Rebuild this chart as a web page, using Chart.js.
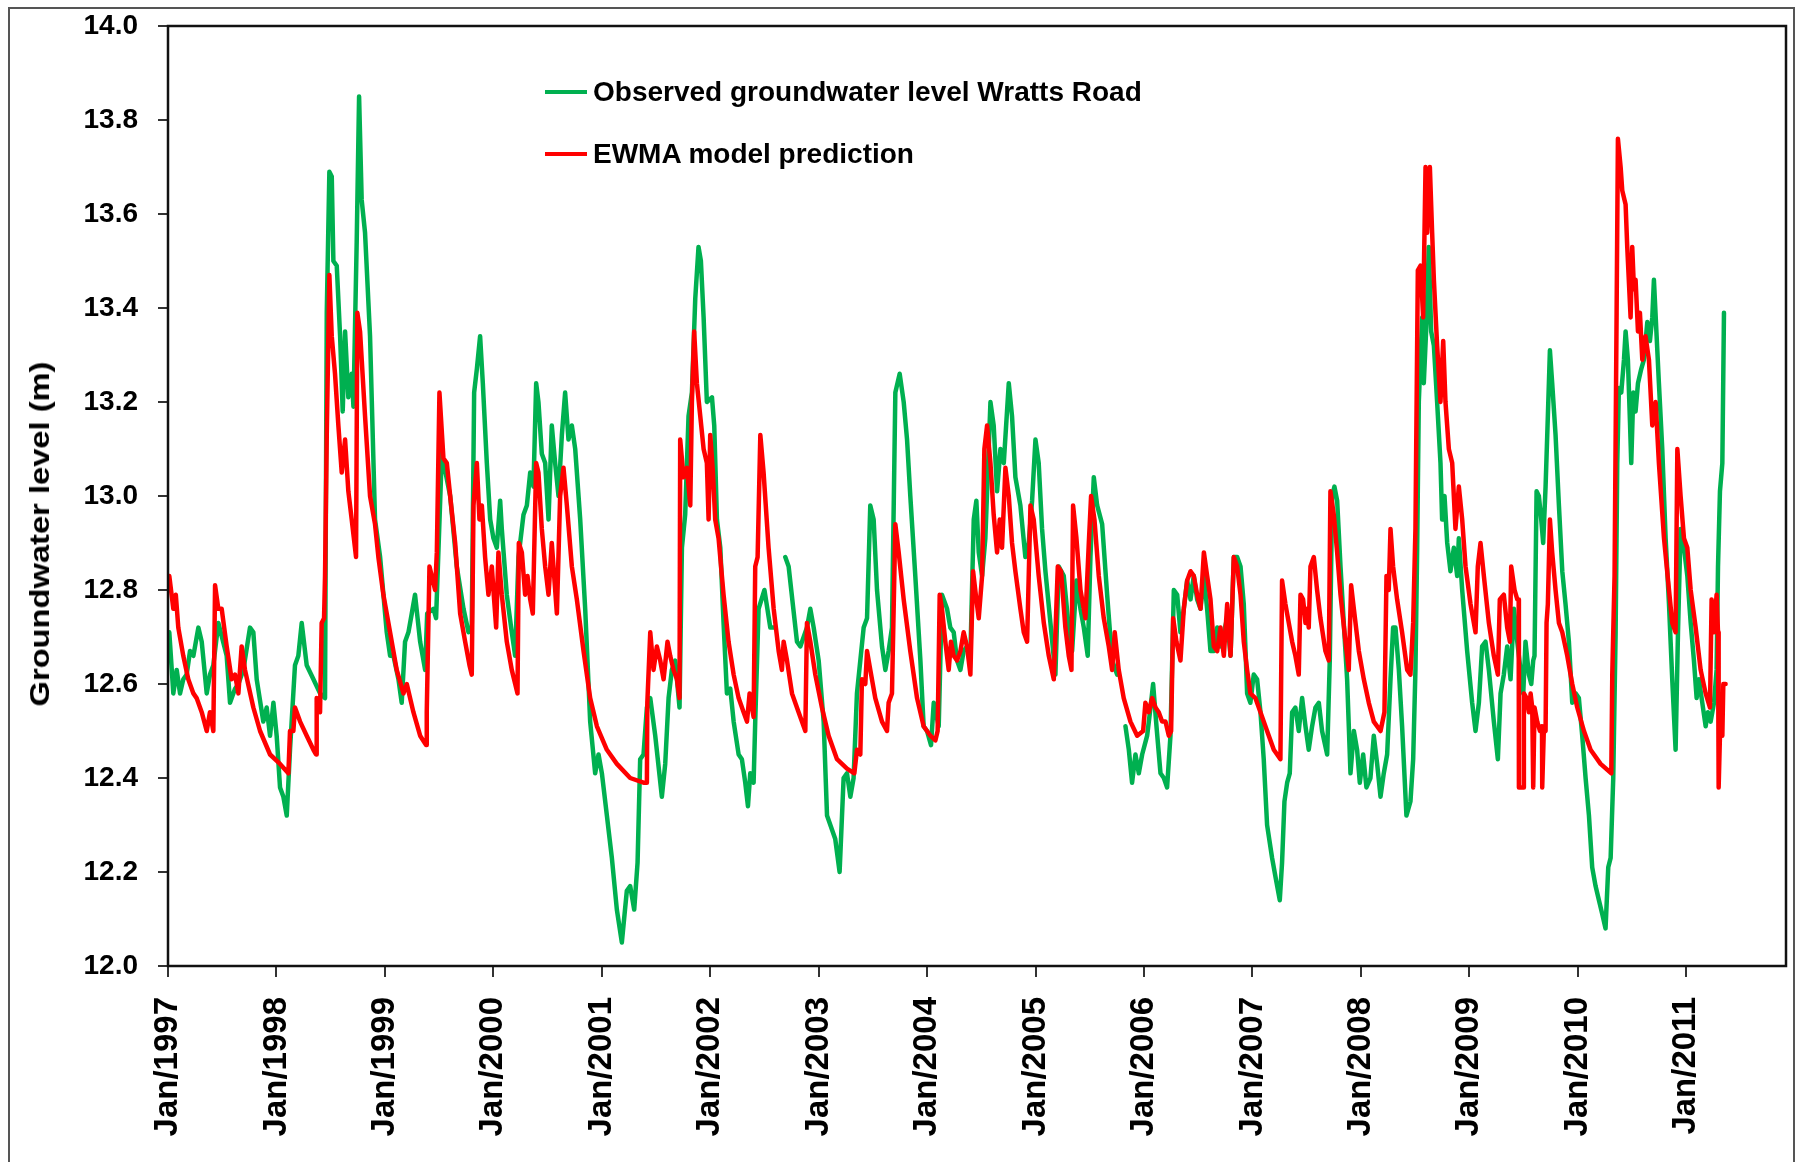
<!DOCTYPE html>
<html>
<head>
<meta charset="utf-8">
<script src="https://cdn.jsdelivr.net/npm/chart.js@4.4.1/dist/chart.umd.min.js"></script>
<style>
  html, body { margin: 0; padding: 0; background: #fff; overflow: hidden; }
  #wrap { position: relative; width: 1801px; height: 1162px; }
  #frame { position: absolute; left: 8px; top: 7px; width: 1787px; height: 1190px; border: 2px solid #555; box-sizing: border-box; }
  canvas { position: absolute; left: 0; top: 0; }
  .ytitle { position: absolute; left: 39.5px; top: 534px; white-space: nowrap;
            font: bold 28px "Liberation Sans", Arial, sans-serif; line-height: 1; color: #000;
            transform: translate(-50%, -50%) rotate(-90deg) scaleX(1.167); }
  .lrow { position: absolute; left: 545px; height: 28px; display: flex; align-items: center;
          font: bold 28px "Liberation Sans", Arial, sans-serif; line-height: 28px; color: #000; white-space: nowrap; }
  .sw { width: 42px; height: 4.5px; margin-right: 6px; }
</style>
</head>
<body>
<div id="wrap">
  <div id="frame"></div>
  <canvas id="c" width="1801" height="1162"></canvas>
  <div class="ytitle" id="ytitle"></div>
  <div id="legend"></div>
</div>
<script>
// ---------------- data ----------------
const seriesNames = ["Observed groundwater level Wratts Road", "EWMA model prediction"];
const seriesColors = ["#00B050", "#FF0000"];
const yAxisTitle = "Groundwater level (m)";
const tickYears = [1997,1998,1999,2000,2001,2002,2003,2004,2005,2006,2007,2008,2009,2010,2011];
const tickLabels = ["Jan/1997","Jan/1998","Jan/1999","Jan/2000","Jan/2001","Jan/2002","Jan/2003","Jan/2004","Jan/2005","Jan/2006","Jan/2007","Jan/2008","Jan/2009","Jan/2010","Jan/2011"];
const yTicks = [12.0,12.2,12.4,12.6,12.8,13.0,13.2,13.4,13.6,13.8,14.0];

// [decimal year, level m]  (null = gap in record)
const observed = [
[1997.012,12.71],[1997.049,12.58],[1997.080,12.63],[1997.111,12.58],[1997.141,12.61],[1997.172,12.62],[1997.203,12.67],[1997.234,12.66],[1997.280,12.72],[1997.311,12.69],[1997.357,12.58],[1997.387,12.62],[1997.418,12.64],[1997.464,12.73],[1997.541,12.66],[1997.572,12.56],[1997.618,12.59],[1997.649,12.60],[1997.695,12.63],[1997.756,12.72],[1997.787,12.71],[1997.818,12.61],[1997.879,12.52],[1997.910,12.55],[1997.941,12.49],[1997.972,12.56],[1998.002,12.49],[1998.033,12.38],[1998.064,12.36],[1998.095,12.32],[1998.125,12.46],[1998.171,12.64],[1998.202,12.66],[1998.233,12.73],[1998.279,12.64],[1998.341,12.61],[1998.402,12.58],[1998.448,12.57],[1998.464,13.39],[1998.488,13.69],[1998.510,13.68],[1998.525,13.50],[1998.556,13.49],[1998.587,13.34],[1998.611,13.18],[1998.633,13.35],[1998.663,13.21],[1998.694,13.26],[1998.710,13.19],[1998.740,13.54],[1998.762,13.85],[1998.786,13.63],[1998.817,13.56],[1998.863,13.34],[1998.909,12.95],[1998.956,12.87],[1999.017,12.71],[1999.048,12.66],[1999.079,12.66],[1999.125,12.61],[1999.155,12.56],[1999.186,12.69],[1999.217,12.71],[1999.248,12.75],[1999.278,12.79],[1999.325,12.69],[1999.371,12.63],[1999.390,12.75],[1999.448,12.76],[1999.472,12.74],[1999.525,13.09],[1999.602,13.00],[1999.663,12.85],[1999.725,12.76],[1999.771,12.71],[1999.801,12.72],[1999.823,13.22],[1999.848,13.27],[1999.878,13.34],[1999.903,13.24],[1999.940,13.07],[1999.971,12.95],
[2000.001,12.91],[2000.032,12.89],[2000.063,12.99],[2000.078,12.93],[2000.124,12.79],[2000.170,12.71],[2000.201,12.66],[2000.232,12.87],[2000.278,12.96],[2000.309,12.98],[2000.340,13.05],[2000.370,13.02],[2000.395,13.24],[2000.416,13.20],[2000.447,13.09],[2000.478,13.07],[2000.509,12.95],[2000.539,13.15],[2000.570,13.07],[2000.601,13.00],[2000.632,13.13],[2000.662,13.22],[2000.693,13.12],[2000.724,13.15],[2000.755,13.10],[2000.801,12.95],[2000.847,12.76],[2000.893,12.52],[2000.939,12.41],[2000.970,12.45],[2001.001,12.41],[2001.047,12.32],[2001.093,12.23],[2001.139,12.12],[2001.185,12.05],[2001.231,12.16],[2001.262,12.17],[2001.299,12.12],[2001.330,12.22],[2001.354,12.44],[2001.385,12.45],[2001.416,12.55],[2001.447,12.57],[2001.493,12.49],[2001.554,12.36],[2001.585,12.43],[2001.616,12.57],[2001.646,12.63],[2001.677,12.65],[2001.717,12.55],[2001.739,12.89],[2001.769,12.96],[2001.800,13.17],[2001.831,13.22],[2001.862,13.42],[2001.892,13.53],[2001.914,13.50],[2001.939,13.38],[2001.969,13.20],
[2002.016,13.21],[2002.037,13.15],[2002.062,12.95],[2002.093,12.89],[2002.123,12.73],[2002.154,12.58],[2002.185,12.59],[2002.216,12.52],[2002.262,12.45],[2002.292,12.44],[2002.323,12.39],[2002.348,12.34],[2002.369,12.41],[2002.400,12.39],[2002.415,12.52],[2002.446,12.76],[2002.500,12.80],[2002.554,12.72],[2002.600,12.72],[2002.650,null],[2002.692,12.87],[2002.723,12.85],[2002.800,12.69],[2002.831,12.68],[2002.892,12.72],[2002.923,12.76],[2002.954,12.72],[2003.000,12.65],[2003.046,12.52],[2003.077,12.32],[2003.123,12.29],[2003.153,12.27],[2003.193,12.20],[2003.230,12.40],[2003.261,12.41],[2003.292,12.36],[2003.322,12.40],[2003.353,12.58],[2003.384,12.65],[2003.415,12.72],[2003.446,12.74],[2003.476,12.98],[2003.507,12.95],[2003.538,12.80],[2003.584,12.68],[2003.615,12.63],[2003.645,12.67],[2003.676,12.72],[2003.707,13.22],[2003.747,13.26],[2003.784,13.20],[2003.815,13.12],[2003.845,13.00],[2003.891,12.83],[2003.938,12.65],[2003.968,12.51],[2003.999,12.50],
[2004.036,12.47],[2004.061,12.56],[2004.107,12.51],[2004.137,12.79],[2004.184,12.76],[2004.214,12.72],[2004.245,12.71],[2004.276,12.65],[2004.307,12.63],[2004.337,12.67],[2004.368,12.68],[2004.399,12.66],[2004.430,12.95],[2004.454,12.99],[2004.476,12.88],[2004.507,12.83],[2004.537,12.91],[2004.584,13.20],[2004.614,13.15],[2004.645,13.01],[2004.676,13.10],[2004.707,13.07],[2004.753,13.24],[2004.783,13.17],[2004.814,13.04],[2004.860,12.98],[2004.906,12.87],[2004.937,12.90],[2004.968,12.99],[2004.999,13.12],[2005.029,13.07],[2005.060,12.93],[2005.091,12.84],[2005.137,12.73],[2005.183,12.62],[2005.214,12.85],[2005.260,12.83],[2005.306,12.72],[2005.337,12.67],[2005.377,12.82],[2005.414,12.76],[2005.445,12.72],[2005.481,12.66],[2005.506,12.87],[2005.537,13.04],[2005.568,12.98],[2005.614,12.94],[2005.660,12.79],[2005.706,12.65],[2005.752,12.62],[2005.790,null],[2005.829,12.51],[2005.860,12.46],[2005.890,12.39],[2005.921,12.45],[2005.952,12.41],[2005.983,12.45],
[2006.029,12.49],[2006.060,12.55],[2006.084,12.60],[2006.115,12.51],[2006.152,12.41],[2006.183,12.40],[2006.213,12.38],[2006.244,12.49],[2006.275,12.80],[2006.306,12.79],[2006.336,12.71],[2006.367,12.76],[2006.398,12.82],[2006.429,12.78],[2006.459,12.83],[2006.490,12.78],[2006.521,12.76],[2006.552,12.83],[2006.582,12.76],[2006.613,12.67],[2006.644,12.67],[2006.675,12.72],[2006.705,12.68],[2006.736,12.71],[2006.767,12.74],[2006.798,12.66],[2006.828,12.87],[2006.859,12.87],[2006.890,12.85],[2006.920,12.77],[2006.951,12.58],[2006.981,12.56],
[2007.012,12.62],[2007.043,12.61],[2007.074,12.54],[2007.104,12.44],[2007.135,12.30],[2007.181,12.23],[2007.212,12.19],[2007.252,12.14],[2007.273,12.22],[2007.295,12.35],[2007.320,12.39],[2007.344,12.41],[2007.366,12.54],[2007.396,12.55],[2007.427,12.50],[2007.458,12.57],[2007.489,12.51],[2007.519,12.46],[2007.550,12.51],[2007.581,12.55],[2007.612,12.56],[2007.642,12.50],[2007.689,12.45],[2007.713,12.65],[2007.735,13.00],[2007.756,13.02],[2007.781,12.99],[2007.812,12.85],[2007.842,12.73],[2007.873,12.61],[2007.904,12.41],[2007.935,12.50],[2007.965,12.46],[2007.990,12.39],
[2008.021,12.45],[2008.051,12.38],[2008.088,12.40],[2008.119,12.49],[2008.150,12.43],[2008.181,12.36],[2008.211,12.41],[2008.242,12.45],[2008.273,12.61],[2008.297,12.72],[2008.319,12.72],[2008.350,12.63],[2008.380,12.51],[2008.420,12.32],[2008.457,12.35],[2008.482,12.44],[2008.503,12.63],[2008.519,12.89],[2008.534,13.20],[2008.565,13.38],[2008.580,13.24],[2008.605,13.37],[2008.626,13.53],[2008.648,13.35],[2008.673,13.32],[2008.703,13.20],[2008.734,13.07],[2008.749,12.95],[2008.771,13.00],[2008.796,12.90],[2008.826,12.84],[2008.857,12.89],[2008.888,12.83],[2008.903,12.91],[2008.934,12.80],[2008.980,12.67],
[2009.026,12.56],[2009.057,12.50],[2009.088,12.56],[2009.118,12.68],[2009.149,12.69],[2009.180,12.63],[2009.226,12.52],[2009.263,12.44],[2009.288,12.58],[2009.318,12.62],[2009.349,12.68],[2009.380,12.61],[2009.411,12.76],[2009.442,12.69],[2009.472,12.63],[2009.497,12.58],[2009.518,12.69],[2009.549,12.62],[2009.571,12.60],[2009.589,12.65],[2009.601,12.66],[2009.620,13.01],[2009.641,13.00],[2009.663,12.95],[2009.681,12.90],[2009.703,13.02],[2009.724,13.17],[2009.743,13.31],[2009.764,13.24],[2009.795,13.13],[2009.826,12.98],[2009.857,12.84],[2009.887,12.77],[2009.918,12.69],[2009.949,12.56],[2009.980,12.58],
[2010.010,12.57],[2010.041,12.49],[2010.072,12.40],[2010.103,12.32],[2010.133,12.21],[2010.164,12.17],[2010.195,12.14],[2010.226,12.11],[2010.256,12.08],[2010.281,12.21],[2010.303,12.23],[2010.327,12.40],[2010.349,12.71],[2010.364,13.07],[2010.379,13.23],[2010.401,13.22],[2010.426,13.29],[2010.441,13.35],[2010.462,13.29],[2010.481,13.16],[2010.493,13.07],[2010.512,13.22],[2010.533,13.18],[2010.555,13.24],[2010.585,13.27],[2010.610,13.29],[2010.641,13.37],[2010.665,13.33],[2010.687,13.38],[2010.702,13.46],[2010.727,13.34],[2010.748,13.24],[2010.779,13.10],[2010.810,12.91],[2010.841,12.77],[2010.871,12.61],[2010.902,12.46],[2010.924,12.71],[2010.948,12.93],[2010.979,12.89],
[2011.010,12.83],[2011.041,12.73],[2011.071,12.65],[2011.096,12.57],[2011.117,12.61],[2011.148,12.56],[2011.179,12.51],[2011.200,12.54],[2011.225,12.52],[2011.256,12.56],[2011.280,12.63],[2011.293,12.85],[2011.311,13.01],[2011.333,13.07],[2011.348,13.39]
];

const ewma = [
[1997.012,12.83],[1997.049,12.76],[1997.072,12.79],[1997.095,12.72],[1997.141,12.66],[1997.187,12.61],[1997.234,12.58],[1997.264,12.57],[1997.311,12.54],[1997.357,12.50],[1997.387,12.54],[1997.418,12.50],[1997.434,12.81],[1997.464,12.76],[1997.495,12.76],[1997.541,12.68],[1997.587,12.61],[1997.618,12.62],[1997.649,12.58],[1997.679,12.68],[1997.710,12.63],[1997.787,12.55],[1997.849,12.50],[1997.941,12.45],[1998.033,12.43],[1998.110,12.41],[1998.125,12.50],[1998.156,12.50],[1998.171,12.55],[1998.218,12.52],[1998.279,12.49],[1998.341,12.46],[1998.365,12.45],[1998.371,12.57],[1998.402,12.54],[1998.417,12.73],[1998.439,12.74],[1998.448,12.83],[1998.464,13.13],[1998.488,13.47],[1998.510,13.34],[1998.540,13.26],[1998.571,13.15],[1998.602,13.05],[1998.633,13.12],[1998.663,13.01],[1998.694,12.95],[1998.734,12.87],[1998.746,13.39],[1998.771,13.35],[1998.817,13.17],[1998.863,13.00],[1998.909,12.94],[1998.940,12.87],[1998.986,12.79],[1999.048,12.71],[1999.109,12.63],[1999.171,12.58],[1999.202,12.60],[1999.263,12.54],[1999.325,12.49],[1999.380,12.47],[1999.386,12.54],[1999.411,12.85],[1999.432,12.83],[1999.463,12.80],[1999.479,12.88],[1999.503,13.22],[1999.540,13.08],[1999.571,13.07],[1999.602,13.00],[1999.648,12.90],[1999.694,12.75],[1999.740,12.69],[1999.780,12.64],[1999.801,12.62],[1999.817,12.98],[1999.848,13.07],[1999.872,12.95],[1999.894,12.98],[1999.924,12.87],[1999.955,12.79],[1999.986,12.85],
[2000.007,12.78],[2000.026,12.72],[2000.047,12.88],[2000.078,12.79],[2000.124,12.69],[2000.170,12.63],[2000.223,12.58],[2000.235,12.90],[2000.263,12.88],[2000.293,12.79],[2000.315,12.83],[2000.340,12.78],[2000.364,12.75],[2000.395,13.07],[2000.416,13.05],[2000.447,12.93],[2000.478,12.85],[2000.509,12.79],[2000.539,12.90],[2000.586,12.75],[2000.616,13.00],[2000.647,13.06],[2000.678,12.98],[2000.724,12.85],[2000.770,12.78],[2000.832,12.67],[2000.893,12.57],[2000.955,12.51],[2001.047,12.46],[2001.139,12.43],[2001.262,12.40],[2001.385,12.39],[2001.416,12.39],[2001.420,12.56],[2001.447,12.71],[2001.477,12.63],[2001.508,12.68],[2001.539,12.65],[2001.570,12.61],[2001.606,12.69],[2001.631,12.66],[2001.662,12.63],[2001.693,12.61],[2001.717,12.57],[2001.723,13.12],[2001.754,13.04],[2001.785,13.06],[2001.816,12.98],[2001.831,13.20],[2001.852,13.35],[2001.877,13.24],[2001.908,13.17],[2001.939,13.10],[2001.969,13.07],[2001.985,12.95],
[2002.000,13.13],[2002.025,13.05],[2002.046,12.95],[2002.077,12.91],[2002.123,12.79],[2002.169,12.69],[2002.216,12.62],[2002.262,12.57],[2002.308,12.54],[2002.339,12.52],[2002.363,12.58],[2002.400,12.53],[2002.415,12.85],[2002.437,12.87],[2002.462,13.13],[2002.492,13.05],[2002.538,12.89],[2002.585,12.76],[2002.631,12.67],[2002.661,12.63],[2002.677,12.69],[2002.708,12.65],[2002.754,12.58],[2002.815,12.54],[2002.877,12.50],[2002.892,12.73],[2002.923,12.69],[2002.969,12.62],[2003.030,12.55],[2003.092,12.49],[2003.169,12.44],[2003.261,12.42],[2003.329,12.41],[2003.353,12.46],[2003.384,12.45],[2003.399,12.61],[2003.430,12.60],[2003.446,12.67],[2003.476,12.63],[2003.522,12.57],[2003.584,12.52],[2003.630,12.50],[2003.645,12.56],[2003.676,12.58],[2003.707,12.94],[2003.738,12.88],[2003.784,12.78],[2003.845,12.67],[2003.907,12.57],[2003.968,12.51],
[2004.030,12.49],[2004.076,12.48],[2004.097,12.50],[2004.116,12.79],[2004.137,12.76],[2004.168,12.69],[2004.199,12.63],[2004.220,12.69],[2004.245,12.66],[2004.276,12.65],[2004.307,12.67],[2004.337,12.71],[2004.368,12.68],[2004.399,12.62],[2004.424,12.84],[2004.454,12.78],[2004.476,12.74],[2004.507,12.83],[2004.528,13.10],[2004.553,13.15],[2004.584,13.07],[2004.614,12.96],[2004.645,12.88],[2004.670,12.95],[2004.691,12.89],[2004.722,13.06],[2004.753,13.00],[2004.783,12.90],[2004.814,12.84],[2004.860,12.76],[2004.891,12.71],[2004.922,12.69],[2004.953,12.98],[2004.983,12.95],[2005.029,12.83],[2005.076,12.73],[2005.122,12.66],[2005.168,12.61],[2005.205,12.85],[2005.235,12.84],[2005.275,12.72],[2005.306,12.66],[2005.331,12.63],[2005.346,12.98],[2005.377,12.91],[2005.414,12.80],[2005.460,12.74],[2005.491,12.90],[2005.512,13.00],[2005.543,12.95],[2005.583,12.83],[2005.629,12.74],[2005.675,12.68],[2005.706,12.63],[2005.730,12.71],[2005.767,12.63],[2005.813,12.57],[2005.875,12.52],[2005.937,12.49],[2005.992,12.50],
[2006.013,12.56],[2006.044,12.54],[2006.075,12.57],[2006.106,12.55],[2006.136,12.54],[2006.167,12.52],[2006.198,12.52],[2006.229,12.49],[2006.250,12.50],[2006.269,12.74],[2006.299,12.69],[2006.336,12.65],[2006.367,12.76],[2006.398,12.82],[2006.429,12.84],[2006.459,12.83],[2006.490,12.79],[2006.521,12.76],[2006.552,12.88],[2006.582,12.83],[2006.613,12.78],[2006.644,12.68],[2006.675,12.67],[2006.705,12.72],[2006.736,12.66],[2006.767,12.77],[2006.798,12.66],[2006.828,12.87],[2006.859,12.85],[2006.890,12.79],[2006.920,12.69],[2006.951,12.63],[2006.981,12.58],
[2007.027,12.57],[2007.074,12.54],[2007.135,12.50],[2007.197,12.46],[2007.258,12.44],[2007.273,12.82],[2007.304,12.77],[2007.335,12.73],[2007.366,12.69],[2007.396,12.66],[2007.427,12.62],[2007.443,12.79],[2007.467,12.78],[2007.489,12.73],[2007.504,12.76],[2007.519,12.72],[2007.535,12.85],[2007.566,12.87],[2007.596,12.80],[2007.627,12.74],[2007.673,12.67],[2007.704,12.65],[2007.719,13.01],[2007.750,12.96],[2007.781,12.88],[2007.812,12.79],[2007.858,12.69],[2007.888,12.63],[2007.910,12.81],[2007.935,12.76],[2007.981,12.67],
[2008.027,12.61],[2008.073,12.56],[2008.119,12.52],[2008.181,12.50],[2008.217,12.54],[2008.236,12.83],[2008.257,12.80],[2008.273,12.93],[2008.297,12.85],[2008.334,12.78],[2008.380,12.71],[2008.427,12.63],[2008.457,12.62],[2008.482,12.73],[2008.503,12.93],[2008.525,13.48],[2008.550,13.49],[2008.574,13.38],[2008.596,13.70],[2008.611,13.56],[2008.636,13.70],[2008.657,13.56],[2008.673,13.46],[2008.703,13.32],[2008.734,13.20],[2008.759,13.33],[2008.780,13.20],[2008.811,13.10],[2008.842,13.07],[2008.872,12.93],[2008.903,13.02],[2008.934,12.95],[2008.965,12.85],
[2009.011,12.77],[2009.057,12.71],[2009.078,12.85],[2009.103,12.90],[2009.134,12.83],[2009.180,12.73],[2009.226,12.66],[2009.263,12.62],[2009.281,12.78],[2009.318,12.79],[2009.349,12.72],[2009.374,12.69],[2009.386,12.85],[2009.417,12.80],[2009.442,12.78],[2009.455,12.78],[2009.457,12.38],[2009.497,12.38],[2009.503,12.58],[2009.528,12.57],[2009.549,12.54],[2009.565,12.58],[2009.580,12.55],[2009.587,12.55],[2009.589,12.38],[2009.593,12.38],[2009.601,12.55],[2009.626,12.52],[2009.651,12.50],[2009.670,12.51],[2009.672,12.38],[2009.677,12.38],[2009.688,12.51],[2009.703,12.50],[2009.712,12.73],[2009.724,12.77],[2009.743,12.95],[2009.764,12.88],[2009.795,12.80],[2009.826,12.73],[2009.857,12.71],[2009.903,12.66],[2009.949,12.60],[2009.995,12.55],
[2010.057,12.50],[2010.118,12.46],[2010.210,12.43],[2010.309,12.41],[2010.318,12.62],[2010.339,12.83],[2010.358,13.39],[2010.370,13.76],[2010.395,13.70],[2010.410,13.65],[2010.441,13.62],[2010.456,13.53],[2010.487,13.38],[2010.502,13.53],[2010.518,13.44],[2010.533,13.46],[2010.555,13.35],[2010.573,13.39],[2010.595,13.29],[2010.625,13.34],[2010.656,13.29],[2010.687,13.15],[2010.718,13.20],[2010.748,13.07],[2010.795,12.91],[2010.841,12.80],[2010.871,12.73],[2010.902,12.71],[2010.918,13.10],[2010.948,13.00],[2010.979,12.91],
[2011.010,12.89],[2011.041,12.80],[2011.087,12.72],[2011.133,12.63],[2011.179,12.58],[2011.219,12.55],[2011.234,12.78],[2011.256,12.71],[2011.280,12.79],[2011.293,12.71],[2011.299,12.38],[2011.311,12.49],[2011.333,12.49],[2011.342,12.60],[2011.363,12.60]
];

// ---------------- layout helpers ----------------
const FONT = '"Liberation Sans", Arial, sans-serif';
document.getElementById('ytitle').textContent = yAxisTitle;
const legendEl = document.getElementById('legend');
const legendCentersY = [92, 154];
seriesNames.forEach((name, i) => {
  const row = document.createElement('div');
  row.className = 'lrow';
  row.style.top = (legendCentersY[i] - 14) + 'px';
  const sw = document.createElement('div');
  sw.className = 'sw';
  sw.style.background = seriesColors[i];
  const tx = document.createElement('span');
  tx.textContent = name;
  row.appendChild(sw); row.appendChild(tx);
  legendEl.appendChild(row);
});

const plotFrame = {
  id: 'plotFrame',
  afterDatasetsDraw(chart) {
    const {ctx, chartArea: a} = chart;
    ctx.save();
    ctx.strokeStyle = '#111';
    ctx.lineWidth = 2.5;
    ctx.strokeRect(a.left, a.top, a.right - a.left, a.bottom - a.top);
    ctx.restore();
  }
};

const toPts = arr => arr.map(([x, y]) => ({x, y}));

new Chart(document.getElementById('c'), {
  type: 'line',
  data: {
    datasets: [
      { label: seriesNames[0], data: toPts(observed), borderColor: seriesColors[0], backgroundColor: seriesColors[0],
        borderWidth: 4.5, pointRadius: 0, tension: 0, spanGaps: false, order: 1,
        borderJoinStyle: 'round', borderCapStyle: 'round' },
      { label: seriesNames[1], data: toPts(ewma), borderColor: seriesColors[1], backgroundColor: seriesColors[1],
        borderWidth: 4.5, pointRadius: 0, tension: 0, spanGaps: false, order: 0,
        borderJoinStyle: 'round', borderCapStyle: 'round' }
    ]
  },
  options: {
    responsive: false,
    animation: false,
    events: [],
    layout: { padding: { left: 0, right: 15, top: 26, bottom: 0 } },
    plugins: { legend: { display: false }, tooltip: { enabled: false }, title: { display: false } },
    scales: {
      x: {
        type: 'linear',
        min: 1997, max: 2011.92,
        afterBuildTicks: s => { s.ticks = tickYears.map(v => ({ value: v })); },
        afterFit: s => { s.height = 196; s.paddingLeft = 0; s.paddingRight = 0; },
        border: { display: false },
        grid: { drawOnChartArea: false, drawTicks: true, tickLength: 11, color: '#333', lineWidth: 2 },
        ticks: {
          autoSkip: false, maxRotation: 90, minRotation: 90, padding: 20, color: '#000',
          font: { family: FONT, size: 33, weight: 'bold' },
          callback: (v, i) => tickLabels[i]
        }
      },
      y: {
        min: 12, max: 14,
        afterBuildTicks: s => { s.ticks = yTicks.map(v => ({ value: v })); },
        afterFit: s => { s.width = 168; s.paddingTop = 0; s.paddingBottom = 0; },
        border: { display: false },
        grid: { drawOnChartArea: false, drawTicks: true, tickLength: 10, color: '#333', lineWidth: 2 },
        ticks: {
          padding: 20, color: '#000',
          font: { family: FONT, size: 28, weight: 'bold' },
          callback: v => Number(v).toFixed(1)
        }
      }
    }
  },
  plugins: [plotFrame]
});
</script>
</body>
</html>
